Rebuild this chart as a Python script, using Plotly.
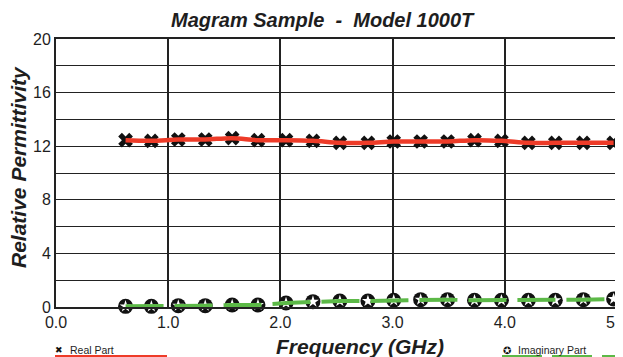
import plotly.graph_objects as go

freq_ghz = [0.62, 0.85, 1.09, 1.33, 1.57, 1.80, 2.05, 2.29, 2.53, 2.78, 3.01,
            3.25, 3.49, 3.73, 3.97, 4.21, 4.45, 4.70, 4.97]
real_part = [12.45, 12.4, 12.5, 12.5, 12.6, 12.45, 12.45, 12.4, 12.25, 12.25, 12.35,
             12.35, 12.35, 12.45, 12.4, 12.25, 12.25, 12.25, 12.25]
imag_part = [0.05, 0.05, 0.1, 0.1, 0.15, 0.15, 0.3, 0.4, 0.45, 0.45, 0.5,
             0.55, 0.55, 0.5, 0.5, 0.5, 0.5, 0.55, 0.6]
y_ticks = [0, 4, 8, 12, 16, 20]
x_ticks = [0.0, 1.0, 2.0, 3.0, 4.0, 5.0]

RED = "#ee3b28"
GREEN = "#5cb947"
FONT = "Liberation Sans, Arial, sans-serif"
TXT = "#1e1e1e"

# page offset (browser body margin)
OFF = 8
W, H = 623 - OFF, 357 - OFF
PL, PR, PT, PB = 56, 617, 39, 307  # plot area in page pixels
PW, PH = PR - PL, PB - PT


def px(x):
    return (x - PL) / PW


def py(y):
    return (PB - y) / PH


fig = go.Figure()
fig.add_trace(go.Scatter(x=freq_ghz, y=real_part, mode="markers",
                         marker=dict(symbol="x", size=13, color="#111"),
                         showlegend=False, cliponaxis=False))
fig.add_trace(go.Scatter(x=freq_ghz, y=imag_part, mode="markers",
                         marker=dict(symbol="circle", size=15, color="#111"),
                         showlegend=False, cliponaxis=False))
fig.add_trace(go.Scatter(x=freq_ghz, y=imag_part, mode="markers",
                         marker=dict(symbol="star", size=9, color="white"),
                         showlegend=False, cliponaxis=False))
fig.add_trace(go.Scatter(x=freq_ghz, y=real_part, mode="lines",
                         line=dict(color=RED, width=4.5, shape="spline", smoothing=1.0),
                         showlegend=False, cliponaxis=False))
fig.add_trace(go.Scatter(x=freq_ghz, y=imag_part, mode="lines",
                         line=dict(color=GREEN, width=4, dash="38px,11px"),
                         showlegend=False, cliponaxis=False))

fig.update_layout(
    width=W, height=H,
    margin=dict(l=PL - OFF, r=623 - PR, t=PT - OFF, b=357 - PB, autoexpand=False),
    paper_bgcolor="white", plot_bgcolor="white",
    font=dict(family=FONT, color=TXT),
    xaxis=dict(range=[0, 5], tickvals=x_ticks, ticktext=[f"{v:.1f}" for v in x_ticks],
               showgrid=True, gridcolor="#222", gridwidth=1.6,
               showline=True, linecolor="#222", linewidth=2, mirror=True,
               ticks="", ticklabeloverflow="allow",
               tickfont=dict(size=16, family=FONT, color=TXT), zeroline=False),
    yaxis=dict(range=[0, 20], tickvals=y_ticks, ticktext=[str(v) for v in y_ticks],
               showgrid=True, gridcolor="#222", gridwidth=1.4,
               minor=dict(dtick=2, showgrid=True, gridcolor="#222", gridwidth=1.4, ticks=""),
               showline=True, linecolor="#222", linewidth=2, mirror=True,
               ticks="", ticklabeloverflow="allow",
               tickfont=dict(size=16, family=FONT, color=TXT), zeroline=False),
)

ann = []
ann.append(dict(text="<b><i>Magram Sample\u00a0\u00a0-\u00a0\u00a0Model 1000T</i></b>",
                x=px(323), y=py(20), xref="paper", yref="paper",
                xanchor="center", yanchor="middle", showarrow=False,
                font=dict(size=20, family=FONT, color=TXT)))
ann.append(dict(text="<b><i>Relative Permittivity</i></b>", textangle=-90,
                x=px(18), y=py(167), xref="paper", yref="paper",
                xanchor="center", yanchor="middle", showarrow=False,
                font=dict(size=21, family=FONT, color=TXT)))
ann.append(dict(text="<b><i>Frequency (GHz)</i></b>",
                x=px(360), y=py(346), xref="paper", yref="paper",
                xanchor="center", yanchor="middle", showarrow=False,
                font=dict(size=21, family=FONT, color=TXT)))
ann.append(dict(text="✖", x=px(59), y=py(350), xref="paper", yref="paper",
                xanchor="center", yanchor="middle", showarrow=False,
                font=dict(size=9, family="DejaVu Sans", color="#111")))
ann.append(dict(text="Real Part", x=px(68), y=py(350), xref="paper", yref="paper",
                xanchor="left", yanchor="middle", showarrow=False,
                font=dict(size=10.5, family=FONT, color=TXT)))
ann.append(dict(text="✪", x=px(507), y=py(350), xref="paper", yref="paper",
                xanchor="center", yanchor="middle", showarrow=False,
                font=dict(size=10, family="DejaVu Sans", color="#111")))
ann.append(dict(text="Imaginary Part", x=px(516), y=py(350), xref="paper", yref="paper",
                xanchor="left", yanchor="middle", showarrow=False,
                font=dict(size=10.5, family=FONT, color=TXT)))
fig.update_layout(annotations=ann)

ly = py(356)
fig.add_shape(type="line", xref="paper", yref="paper", x0=px(55), x1=px(167), y0=ly, y1=ly,
              line=dict(color=RED, width=2))
fig.add_shape(type="line", xref="paper", yref="paper", x0=px(502), x1=px(623),
              y0=ly, y1=ly, line=dict(color=GREEN, width=2, dash="40px,10px"))

fig.write_html("out.html")
